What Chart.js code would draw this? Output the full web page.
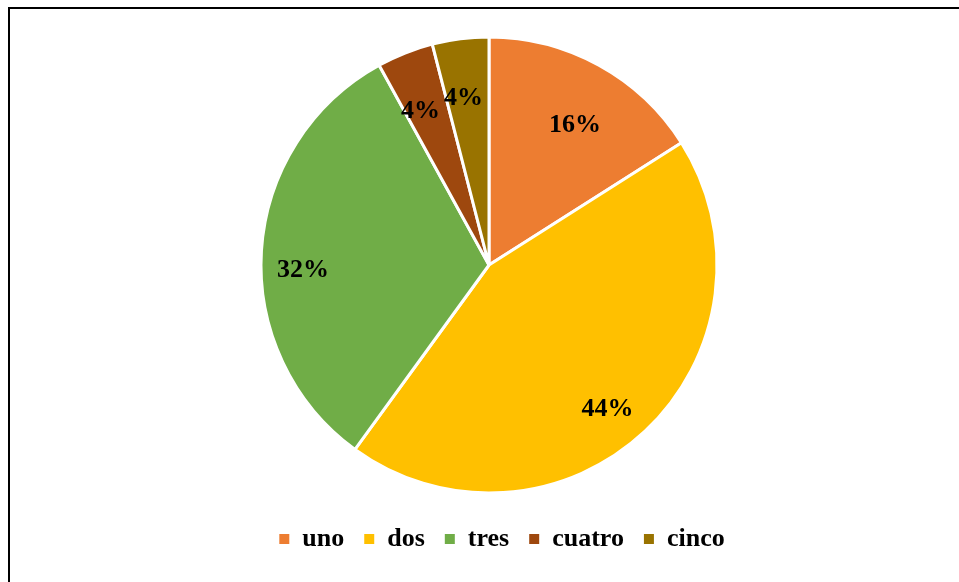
<!DOCTYPE html>
<html>
<head>
<meta charset="utf-8">
<script src="https://cdn.jsdelivr.net/npm/chart.js@4.4.0/dist/chart.umd.min.js"></script>
<style>
  html, body { margin: 0; padding: 0; background: #fff; overflow: hidden; }
  #marco { position: absolute; left: 8px; top: 7px; width: 970px; height: 600px; border: 2px solid #000; }
  #zona { position: absolute; left: 0; top: 0; width: 959px; height: 582px; }
</style>
</head>
<body>
<div id="marco"></div>
<div id="zona"><canvas id="grafico"></canvas></div>
<script>
// datos del grafico
const categorias = ['uno', 'dos', 'tres', 'cuatro', 'cinco'];
const valores = [16, 44, 32, 4, 4];
const colores = ['#ED7D31', '#FFC000', '#70AD47', '#9E480E', '#997300'];

// posicion de las etiquetas: fraccion del radio y desfase en grados
const etiquetaRadio = [0.72, 0.82, 0.816, 0.74, 0.74];
const etiquetaDesfase = [2.8, 3.9, -5.1, -2.4, -1.5];

const fuente = "'Liberation Serif', 'Times New Roman', serif";

// etiquetas de porcentaje dentro de cada porcion
const etiquetas = {
  id: 'etiquetas',
  afterDatasetsDraw(chart) {
    const ctx = chart.ctx;
    const meta = chart.getDatasetMeta(0);
    const total = valores.reduce((a, b) => a + b, 0);
    ctx.save();
    ctx.font = 'bold 26px ' + fuente;
    ctx.fillStyle = '#000';
    ctx.textAlign = 'center';
    ctx.textBaseline = 'middle';
    meta.data.forEach((arc, i) => {
      const p = arc.getProps(['x', 'y', 'startAngle', 'endAngle', 'outerRadius'], true);
      const ang = (p.startAngle + p.endAngle) / 2 + etiquetaDesfase[i] * Math.PI / 180;
      const r = p.outerRadius * etiquetaRadio[i];
      const txt = Math.round(valores[i] / total * 100) + '%';
      ctx.fillText(txt, p.x + Math.cos(ang) * r, p.y + Math.sin(ang) * r);
    });
    ctx.restore();
  }
};

// la leyenda va un poco a la derecha del centro del circulo
const moverLeyenda = {
  id: 'moverLeyenda',
  afterLayout(chart) {
    if (chart.legend) {
      chart.legend.left += 13;
      chart.legend.right += 13;
    }
  }
};

new Chart(document.getElementById('grafico'), {
  type: 'pie',
  data: {
    labels: categorias,
    datasets: [{
      data: valores,
      backgroundColor: colores,
      borderColor: '#fff',
      borderWidth: 3
    }]
  },
  options: {
    responsive: true,
    maintainAspectRatio: false,
    animation: false,
    radius: 228,
    layout: { padding: { left: 19, right: 0, top: 24, bottom: 20 } },
    plugins: {
      legend: {
        position: 'bottom',
        labels: {
          boxWidth: 10,
          boxHeight: 10,
          padding: 20,
          color: '#000',
          font: { family: fuente, size: 26, weight: 'bold' },
          generateLabels(chart) {
            // cuadros sin borde blanco
            return categorias.map((c, i) => ({
              text: c,
              fillStyle: colores[i],
              strokeStyle: colores[i],
              lineWidth: 0,
              fontColor: '#000',
              hidden: false,
              index: i
            }));
          }
        }
      },
      tooltip: { enabled: false }
    }
  },
  plugins: [etiquetas, moverLeyenda]
});
</script>
</body>
</html>
